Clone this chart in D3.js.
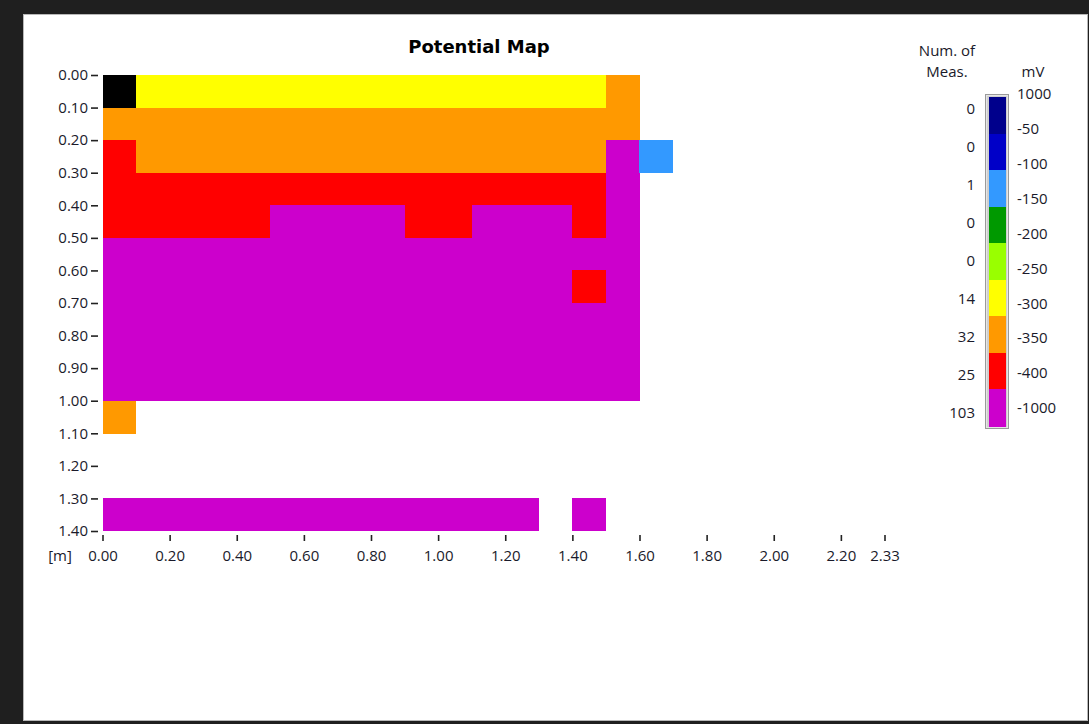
<!DOCTYPE html>
<html>
<head>
<meta charset="utf-8">
<script src="https://cdn.jsdelivr.net/npm/d3@7"></script>
<style>
  html, body { margin: 0; padding: 0; background: #1f1f1f; }
  svg { display: block; }
  text { font-family: "Open Sans", "Noto Sans", sans-serif; fill: #1a1a2a; }
</style>
</head>
<body>
<script>
// ---------------- data ----------------
const chartTitle = "Potential Map";
const cellSize = 0.1;                       // metres per grid cell
const xTicks = [0, 0.2, 0.4, 0.6, 0.8, 1.0, 1.2, 1.4, 1.6, 1.8, 2.0, 2.2, 2.33];
const yTicks = [0, 0.1, 0.2, 0.3, 0.4, 0.5, 0.6, 0.7, 0.8, 0.9, 1.0, 1.1, 1.2, 1.3, 1.4];
const xMax = 2.33, yMax = 1.4;

// band codes per cell (rows = y from 0.00 m, cols = x from 0.00 m); "." = no measurement, "K" = reference cell
const bandCodes = ["N", "U", "L", "G", "W", "Y", "O", "R", "V"];
const bandLabels = ["1000", "-50", "-100", "-150", "-200", "-250", "-300", "-350", "-400", "-1000"];
const bandCounts = [0, 0, 1, 0, 0, 14, 32, 25, 103];
const bandColors = ["#00008c", "#0000c8", "#3399ff", "#009900", "#99ff00", "#ffff00", "#ff9900", "#ff0000", "#cc00cc"];
const gridRows = [
  "KYYYYYYYYYYYYYYO.",
  "OOOOOOOOOOOOOOOO.",
  "ROOOOOOOOOOOOOOVL",
  "RRRRRRRRRRRRRRRV.",
  "RRRRRVVVVRRVVVRV.",
  "VVVVVVVVVVVVVVVV.",
  "VVVVVVVVVVVVVVRV.",
  "VVVVVVVVVVVVVVVV.",
  "VVVVVVVVVVVVVVVV.",
  "VVVVVVVVVVVVVVVV.",
  "O................",
  ".................",
  ".................",
  "VVVVVVVVVVVVV.V.."
];

// ---------------- drawing ----------------
const W = 1089, H = 724;
const FS = "15px";
const svg = d3.select("body").append("svg").attr("width", W).attr("height", H);

// window frame
svg.append("rect").attr("x", 0).attr("y", 0).attr("width", W).attr("height", H).attr("fill", "#1f1f1f");
svg.append("rect").attr("x", 23.5).attr("y", 14.5).attr("width", 1064).attr("height", 706)
  .attr("fill", "#ffffff").attr("stroke", "#b8b8b8").attr("stroke-width", 1);

const x = d3.scaleLinear().domain([0, xMax]).range([102.5, 884.5]);
const y = d3.scaleLinear().domain([0, yMax]).range([75, 531]);

const color = d3.scaleOrdinal().domain(bandCodes.concat(["K"])).range(bandColors.concat(["#000000"]));

const cells = [];
gridRows.forEach((row, r) => {
  row.split("").forEach((c, k) => {
    if (c !== ".") cells.push({ x0: k * cellSize, y0: r * cellSize, code: c });
  });
});

svg.append("g").selectAll("rect").data(cells).join("rect")
  .attr("x", d => x(d.x0))
  .attr("y", d => y(d.y0))
  .attr("width", d => x(d.x0 + cellSize) - x(d.x0) + 0.4)
  .attr("height", d => y(d.y0 + cellSize) - y(d.y0) + 0.4)
  .attr("fill", d => color(d.code))
  .attr("shape-rendering", "crispEdges");

// title
svg.append("text").attr("x", 479).attr("y", 53).attr("text-anchor", "middle")
  .style("font-family", "'DejaVu Sans', sans-serif").style("font-weight", "bold")
  .style("font-size", "18px").style("fill", "#000").text(chartTitle);

// y axis
const yAxis = d3.axisLeft(y).tickValues(yTicks).tickFormat(d3.format(".2f")).tickSize(7).tickPadding(3);
const gy = svg.append("g").attr("transform", "translate(98,0)").call(yAxis);
gy.select(".domain").remove();
gy.selectAll(".tick line").attr("stroke", "#222").attr("stroke-width", 1.6);
gy.selectAll(".tick text").style("font-size", FS).style("font-family", "'Open Sans', sans-serif").attr("fill", "#1a1a2a");

// x axis
const xAxis = d3.axisBottom(x).tickValues(xTicks).tickFormat(d3.format(".2f")).tickSize(6).tickPadding(9);
const gx = svg.append("g").attr("transform", "translate(0,535)").call(xAxis);
gx.select(".domain").remove();
gx.selectAll(".tick line").attr("stroke", "#222").attr("stroke-width", 1.6);
gx.selectAll(".tick text").style("font-size", FS).style("font-family", "'Open Sans', sans-serif").attr("fill", "#1a1a2a");

svg.append("text").attr("x", 60).attr("y", 561).attr("text-anchor", "middle")
  .style("font-size", FS).text("[m]");

// legend
const lg = svg.append("g");
lg.append("text").attr("x", 947).attr("y", 56).attr("text-anchor", "middle").style("font-size", FS).text("Num. of");
lg.append("text").attr("x", 947).attr("y", 77).attr("text-anchor", "middle").style("font-size", FS).text("Meas.");
lg.append("text").attr("x", 1033).attr("y", 77).attr("text-anchor", "middle").style("font-size", FS).text("mV");

const ly = d3.scaleBand().domain(d3.range(bandCodes.length)).range([97, 426]).paddingInner(0);
lg.append("rect").attr("x", 985).attr("y", 94).attr("width", 24).attr("height", 335)
  .attr("fill", "#9a9a9a");
lg.append("rect").attr("x", 986.5).attr("y", 95.5).attr("width", 21).attr("height", 332)
  .attr("fill", "#cfcfcf").attr("stroke", "#e6e6e6").attr("stroke-width", 1);
lg.selectAll("rect.band").data(bandColors).join("rect").attr("class", "band")
  .attr("x", 988.5).attr("y", (d, i) => ly(i)).attr("width", 17).attr("height", ly.bandwidth() + 0.5)
  .attr("fill", d => d).attr("shape-rendering", "crispEdges");

const countY = d3.scaleLinear().domain([0, bandCounts.length - 1]).range([109, 413]);
lg.selectAll("text.count").data(bandCounts).join("text").attr("class", "count")
  .attr("x", 975).attr("y", (d, i) => countY(i)).attr("dy", "0.35em").attr("text-anchor", "end")
  .style("font-size", FS).text(d => d);

const labelY = d3.scaleLinear().domain([0, bandLabels.length - 1]).range([94, 408]);
lg.selectAll("text.mv").data(bandLabels).join("text").attr("class", "mv")
  .attr("x", 1017).attr("y", (d, i) => labelY(i)).attr("dy", "0.35em").attr("text-anchor", "start")
  .style("font-size", FS).text(d => d);
</script>
</body>
</html>
